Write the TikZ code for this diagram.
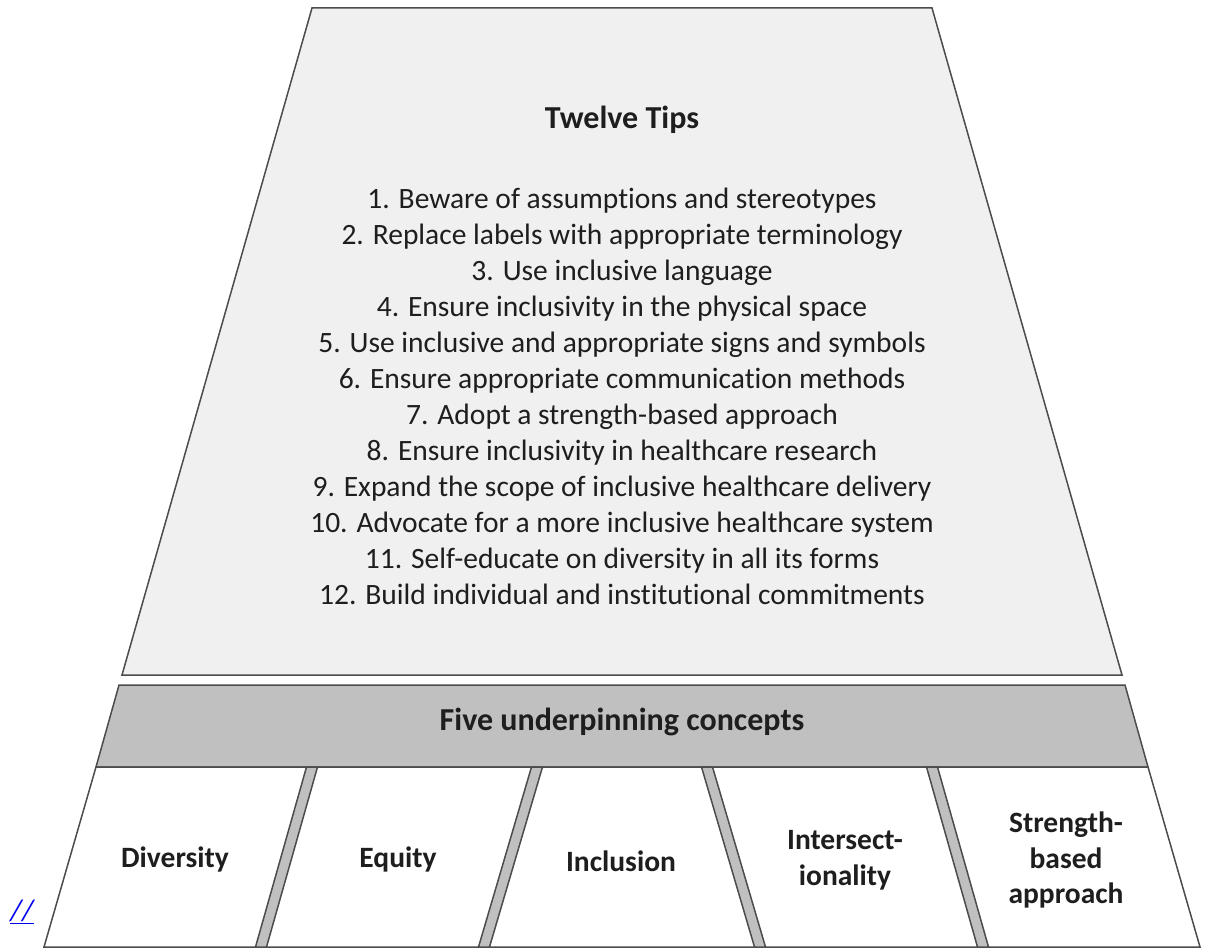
\documentclass[tikz,border=0pt]{standalone}
\usepackage{fontspec}
\setmainfont{Carlito}[Ligatures=NoCommon]
\usetikzlibrary{positioning}
\definecolor{tipfill}{HTML}{F0F0F0}
\definecolor{bandfill}{HTML}{C0C0C0}
\definecolor{inkgray}{HTML}{1E1E1E}
\definecolor{linkblue}{HTML}{0000EE}

\tikzset{
  outline/.style={draw=black!70, line width=1.5pt},
  tiptext/.style={text=inkgray, font=\fontsize{29.5}{36}\selectfont, align=center},
  headtext/.style={text=inkgray, font=\fontsize{32}{38}\selectfont\bfseries},
  concept/.style={text=inkgray, font=\fontsize{29.5}{35.5}\selectfont\bfseries, align=center},
}

\begin{document}
\begin{tikzpicture}[x=1pt,y=-1pt]
\useasboundingbox (0,0) rectangle (1208,952);
% twelve tips
\filldraw[outline, fill=tipfill] (312,8)--(932,8)--(1122,675)--(122,675)--cycle;
\node[headtext] (title) at (622,120) {Twelve Tips};
\node[tiptext] (tips) at (622,396) {1. Beware of assumptions and stereotypes\\
2. Replace labels with appropriate terminology\\
3. Use inclusive language\\
4. Ensure inclusivity in the physical space\\
5. Use inclusive and appropriate signs and symbols\\
6. Ensure appropriate communication methods\\
7. Adopt a strength-based approach\\
8. Ensure inclusivity in healthcare research\\
9. Expand the scope of inclusive healthcare delivery\\
10. Advocate for a more inclusive healthcare system\\
11. Self-educate on diversity in all its forms\\
12. Build individual and institutional commitments};
% band
\filldraw[outline, fill=bandfill] (119,685)--(1125,685)--(1148,767)--(96,767)--cycle;
\node[headtext] (concepts) at (622,722) {Five underpinning concepts};
% pillars
\filldraw[outline, fill=white] (96,767)--(1148,767)--(1200,947)--(44,947)--cycle;
\foreach \xt/\xb in {312/261,537/484,707/760,932/983}
  \filldraw[outline, fill=bandfill] (\xt-5.5,767)--(\xt+5.5,767)--(\xb+5.5,947)--(\xb-5.5,947)--cycle;
\node[concept] (diversity) at (175,859) {Diversity};
\node[concept] (equity) at (398,859) {Equity};
\node[concept] (inclusion) at (621,861) {Inclusion};
\node[concept] (intersect) at (845,860) {Intersect-\\ionality};
\node[concept] (strength) at (1066,860) {Strength-\\based\\approach};
\node[text=linkblue, font=\fontsize{30}{32}\selectfont\itshape] (link) at (22,912) {\underline{//}};
\end{tikzpicture}
\end{document}
